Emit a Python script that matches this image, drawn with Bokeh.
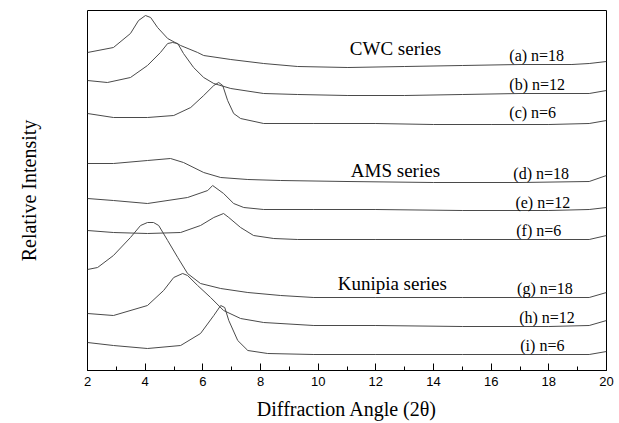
from bokeh.plotting import figure
from bokeh.models import SingleIntervalTicker, FixedTicker, ColumnDataSource
from bokeh.core.properties import value
from bokeh.embed import file_html
from bokeh.resources import INLINE

# ---- data (2theta in degrees, relative intensity in arbitrary stacked units) ----
a_x = [2.0, 2.9, 3.49, 3.77, 4.01, 4.19, 4.43, 4.78, 5.23, 5.82, 6.03, 6.97, 8.11, 9.29, 11.03, 13, 15, 17, 18.8, 19.4, 20]
a_y = [318, 323, 337, 350, 355, 353, 343, 332, 325, 318, 315, 311, 307, 304, 303, 304, 305, 306, 306, 307, 309]

b_x = [2.0, 2.69, 3.49, 4.08, 4.53, 4.78, 4.95, 5.13, 5.33, 5.68, 6.03, 6.38, 6.97, 8.11, 9.29, 11.03, 13, 15, 17, 19.4, 20]
b_y = [290, 288, 293, 305, 318, 327, 328, 327, 317, 303, 293, 287, 282, 277, 276, 275, 275, 276, 277, 277, 280]

c_x = [2.0, 2.9, 4.08, 4.99, 5.58, 6.03, 6.38, 6.55, 6.69, 6.86, 7.07, 7.31, 8.11, 9.85, 12, 14, 16, 18, 19.4, 20]
c_y = [257, 253, 253, 255, 263, 275, 285, 288, 285, 270, 257, 252, 247, 247, 247, 246, 246, 246, 247, 250]

d_x = [2.0, 2.9, 4.08, 4.88, 5.33, 6.03, 6.62, 7.56, 8.70, 11, 14, 17, 19.4, 20]
d_y = [207, 207, 210, 212, 208, 198, 193, 191, 190, 189, 188, 188, 189, 195]

e_x = [2.0, 2.9, 4.08, 5.47, 6.17, 6.34, 6.72, 7.07, 7.42, 8.11, 9.85, 12, 15, 18, 19.4, 20]
e_y = [172, 170, 167, 173, 180, 185, 177, 167, 163, 161, 161, 161, 160, 160, 161, 163]

f_x = [2.0, 2.9, 4.08, 5.23, 5.92, 6.38, 6.72, 6.90, 7.31, 7.76, 8.46, 9.29, 12, 15, 18, 19.4, 20]
f_y = [140, 138, 137, 138, 145, 153, 157, 153, 143, 135, 132, 131, 131, 131, 131, 131, 135]

g_x = [2.0, 2.35, 2.9, 3.49, 3.84, 4.08, 4.29, 4.47, 4.78, 5.13, 5.47, 5.92, 6.62, 7.56, 8.70, 9.85, 12, 15, 18, 19.4, 20]
g_y = [101, 103, 115, 133, 145, 148, 148, 145, 130, 113, 97, 87, 82, 78, 75, 73, 73, 73, 73, 73, 78]

h_x = [2.0, 2.9, 4.08, 4.64, 4.99, 5.30, 5.47, 5.82, 6.27, 6.72, 7.31, 8.11, 9.85, 12, 15, 18, 19.4, 20]
h_y = [57, 55, 65, 80, 93, 97, 95, 85, 73, 60, 52, 48, 45, 45, 44, 44, 45, 50]

i_x = [2.0, 2.9, 4.08, 5.23, 5.92, 6.38, 6.62, 6.76, 6.90, 7.21, 7.56, 8.25, 9.85, 12, 15, 18, 19.4, 20]
i_y = [28, 25, 22, 25, 37, 55, 65, 63, 50, 30, 20, 17, 16, 16, 16, 16, 16, 19]

curve_labels = ["(a) n=18", "(b) n=12", "(c) n=6",
                "(d) n=18", "(e) n=12", "(f) n=6",
                "(g) n=18", "(h) n=12", "(i) n=6"]
series_names = ["CWC series", "AMS series", "Kunipia series"]
x_ticks_interval = 2

# ---- layout (annotation placement) ----
label_pos_x = [16.63, 16.63, 16.63, 16.77, 16.84, 16.87, 16.90, 16.97, 17.01]
label_pos_y = [315, 286, 258, 197, 168, 140, 82, 53, 25]
series_pos_x = [12.68, 12.68, 12.57]
series_pos_y = [322, 200, 87]

p = figure(width=619, height=423, output_backend="svg", toolbar_location=None,
           x_range=(2, 20), y_range=(0, 360),
           min_border_left=87, min_border_right=13, min_border_top=10, min_border_bottom=53)

line_color = "#4a4a4a"
for xs, ys in [(a_x, a_y), (b_x, b_y), (c_x, c_y), (d_x, d_y), (e_x, e_y),
               (f_x, f_y), (g_x, g_y), (h_x, h_y), (i_x, i_y)]:
    p.line(xs, ys, line_color=line_color, line_width=1)

lab_src = ColumnDataSource(dict(x=label_pos_x, y=label_pos_y, t=curve_labels))
p.text(x="x", y="y", text="t", source=lab_src, text_font=value("Liberation Serif"),
       text_font_size="16px", text_baseline="middle", text_align="left", text_color="black")

ser_src = ColumnDataSource(dict(x=series_pos_x, y=series_pos_y, t=series_names))
p.text(x="x", y="y", text="t", source=ser_src, text_font=value("Liberation Serif"),
       text_font_size="19px", text_baseline="middle", text_align="center", text_color="black")

p.grid.visible = False
p.background_fill_color = "white"
p.border_fill_color = "white"
p.outline_line_color = "black"
p.outline_line_width = 1

xa = p.xaxis[0]
xa.ticker = SingleIntervalTicker(interval=x_ticks_interval, num_minor_ticks=2)
xa.major_tick_in = 7
xa.major_tick_out = 0
xa.minor_tick_in = 4
xa.minor_tick_out = 0
xa.axis_line_color = "black"
xa.major_tick_line_color = "black"
xa.minor_tick_line_color = "black"
xa.major_label_text_font = "Liberation Sans"
xa.major_label_text_font_size = "13px"
xa.major_label_text_color = "black"
xa.major_label_standoff = 6
xa.axis_label = "Diffraction Angle (2θ)"
xa.axis_label_text_font = "Liberation Serif"
xa.axis_label_text_font_size = "20px"
xa.axis_label_text_font_style = "normal"
xa.axis_label_text_color = "black"
xa.axis_label_standoff = 9

ya = p.yaxis[0]
ya.ticker = FixedTicker(ticks=[])
ya.major_tick_line_color = None
ya.minor_tick_line_color = None
ya.axis_line_color = None
ya.axis_label = "Relative Intensity"
ya.axis_label_text_font = "Liberation Serif"
ya.axis_label_text_font_size = "20px"
ya.axis_label_text_font_style = "normal"
ya.axis_label_text_color = "black"
ya.axis_label_standoff = 48

open("out.html", "w").write(file_html(p, INLINE))
